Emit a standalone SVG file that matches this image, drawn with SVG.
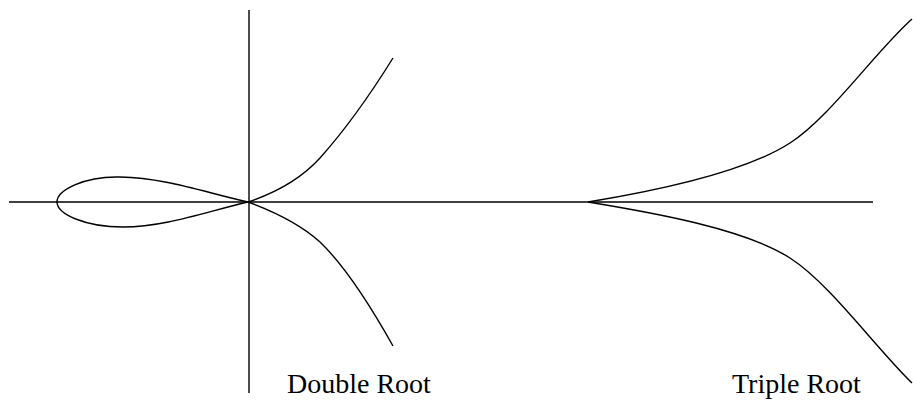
<svg xmlns="http://www.w3.org/2000/svg" width="913" height="400" viewBox="0 0 913 400">
<style>
.ln{fill:none;stroke:#000;stroke-width:1.4;stroke-linecap:butt;stroke-linejoin:round}
.lb{font-family:"Liberation Serif","Times New Roman",serif;font-size:28px;fill:#000}
</style>
<rect width="913" height="400" fill="#fff"/>
<g id="axes">
<line class="ln" x1="9" y1="202" x2="873" y2="202"/>
<line class="ln" x1="249" y1="10" x2="249" y2="393"/>
</g>
<g id="double-root">
<path class="ln" d="M248,202 C200,191 165,178 120,177 C85,176 57,190 57,202 C57,214 85,227 123,227 C165,227 205,212 248,202"/>
<path class="ln" d="M248,202 C275,193 300,180 320,158 C345,130 370,95 393,58"/>
<path class="ln" d="M248,202 C275,212 300,224 320,242 C345,266 370,305 393,346"/>
<text class="lb" x="287" y="393">Double Root</text>
</g>
<g id="triple-root">
<path class="ln" d="M588,202 C655,191 745,172 790,143 C830,117.2 875,52 912,19"/>
<path class="ln" d="M588,202 C655,213 745,229 790,258 C830,283.8 875,347 912,383"/>
<text class="lb" x="732" y="393">Triple Root</text>
</g>
</svg>
